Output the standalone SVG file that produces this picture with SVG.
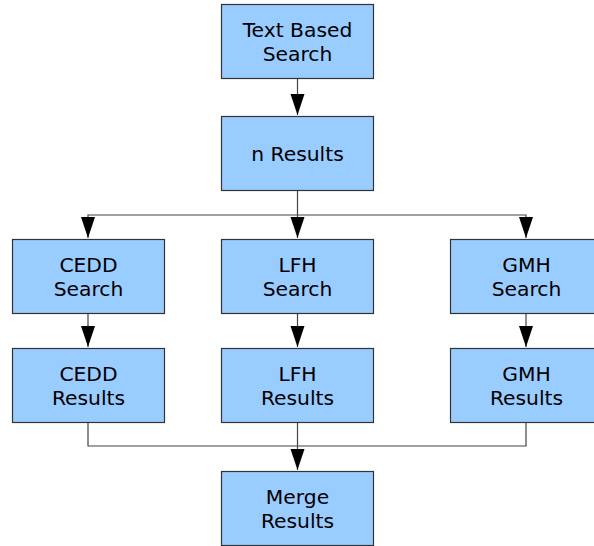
<svg xmlns="http://www.w3.org/2000/svg" width="594" height="546" viewBox="0 0 594 546">
<style>
.box{fill:#99ccff;stroke:#333;stroke-width:1.2}
.t{font-family:"DejaVu Sans",Verdana,sans-serif;font-size:20.3px;fill:#000;text-anchor:middle}
.c{fill:none;stroke:#444;stroke-width:1.2}
.ah{fill:#000}
</style>
<defs>
<path id="arrow" class="ah" d="M-7,0 L7,0 L0,21 Z"/>
</defs>
<rect width="594" height="546" fill="#fff"/>
<g id="connectors">
<line class="c" x1="297.5" y1="78" x2="297.5" y2="115"/>
<use href="#arrow" x="297.5" y="94"/>
<line class="c" x1="297.5" y1="190" x2="297.5" y2="238"/>
<use href="#arrow" x="297.5" y="217"/>
<polyline class="c" points="88,238 88,215 526,215 526,238"/>
<use href="#arrow" x="88" y="217"/>
<use href="#arrow" x="526" y="217"/>
<line class="c" x1="88" y1="313" x2="88" y2="347"/>
<use href="#arrow" x="88" y="326"/>
<line class="c" x1="297.5" y1="313" x2="297.5" y2="347"/>
<use href="#arrow" x="297.5" y="326"/>
<line class="c" x1="526" y1="313" x2="526" y2="347"/>
<use href="#arrow" x="526" y="326"/>
<polyline class="c" points="88,422 88,446 526,446 526,422"/>
<line class="c" x1="297.5" y1="422" x2="297.5" y2="470"/>
<use href="#arrow" x="297.5" y="449"/>
</g>
<g id="text-based-search"><rect class="box" x="221.5" y="4.5" width="152" height="74"/><text class="t" x="297.5" y="37">Text Based</text><text class="t" x="297.5" y="61">Search</text></g>
<g id="n-results"><rect class="box" x="221.5" y="116.5" width="152" height="74"/><text class="t" x="297.5" y="161">n Results</text></g>
<g id="cedd-search"><rect class="box" x="12.5" y="239.5" width="152" height="74"/><text class="t" x="88.5" y="272">CEDD</text><text class="t" x="88.5" y="296">Search</text></g>
<g id="lfh-search"><rect class="box" x="221.5" y="239.5" width="152" height="74"/><text class="t" x="297.5" y="272">LFH</text><text class="t" x="297.5" y="296">Search</text></g>
<g id="gmh-search"><rect class="box" x="450.5" y="239.5" width="152" height="74"/><text class="t" x="526.5" y="272">GMH</text><text class="t" x="526.5" y="296">Search</text></g>
<g id="cedd-results"><rect class="box" x="12.5" y="348.5" width="152" height="74"/><text class="t" x="88.5" y="381">CEDD</text><text class="t" x="88.5" y="405">Results</text></g>
<g id="lfh-results"><rect class="box" x="221.5" y="348.5" width="152" height="74"/><text class="t" x="297.5" y="381">LFH</text><text class="t" x="297.5" y="405">Results</text></g>
<g id="gmh-results"><rect class="box" x="450.5" y="348.5" width="152" height="74"/><text class="t" x="526.5" y="381">GMH</text><text class="t" x="526.5" y="405">Results</text></g>
<g id="merge-results"><rect class="box" x="221.5" y="471.5" width="152" height="74"/><text class="t" x="297.5" y="504">Merge</text><text class="t" x="297.5" y="528">Results</text></g>
</svg>
